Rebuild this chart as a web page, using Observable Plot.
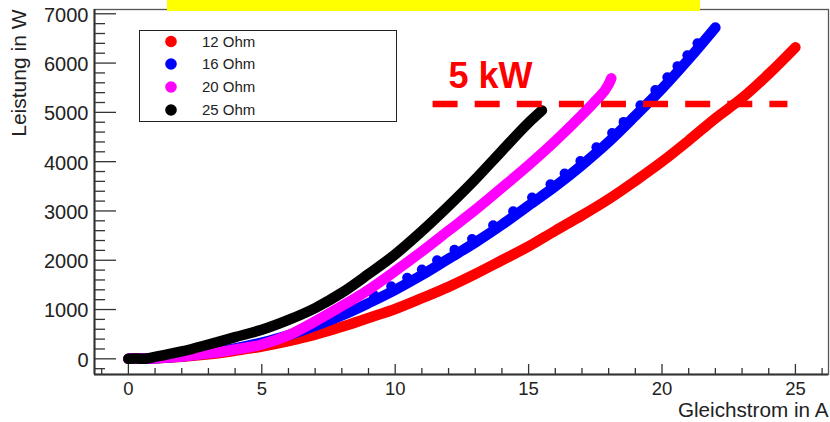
<!DOCTYPE html>
<html>
<head>
<meta charset="utf-8">
<script src="https://cdn.jsdelivr.net/npm/d3@7"></script>
<script src="https://cdn.jsdelivr.net/npm/@observablehq/plot@0.6"></script>
<style>
  body { margin: 0; background: #fff; }
  #wrap { position: relative; width: 830px; height: 422px; font-family: "Liberation Sans", Arial, Helvetica, sans-serif; }
  #bar { position: absolute; left: 167px; top: 0; width: 533px; height: 11px; background: #ffff00; }
  #legend { position: absolute; left: 139px; top: 30px; width: 256px; height: 90px; border: 1.5px solid #222; background: #fff; }
</style>
</head>
<body>
<div id="wrap"></div>
<script>
// ---------- data ----------
const seriesNames  = ["12 Ohm", "16 Ohm", "20 Ohm", "25 Ohm"];
const seriesColors = ["#ff0000", "#0000ff", "#ff00ff", "#000000"];

const current12 = [0, 0.75, 1, 2, 3, 4, 5, 6, 7, 8, 9, 10, 11, 12, 13, 14, 15, 16, 17, 18, 19, 20, 21, 22, 23, 24, 25];
const power12   = [0, 10, 12, 42, 92, 165, 250, 360, 490, 650, 830, 1010, 1230, 1460, 1720, 2000, 2280, 2600, 2910, 3240, 3610, 4000, 4430, 4880, 5290, 5780, 6320];

const current16 = [0, 1, 2, 3, 4, 5, 6, 7, 8, 9, 10, 11, 12, 13, 14, 15, 16, 17, 18, 19, 20, 21, 22];
const power16   = [0, 12, 50, 115, 210, 330, 480, 670, 880, 1130, 1400, 1700, 2030, 2360, 2720, 3110, 3500, 3930, 4400, 4930, 5480, 6080, 6720];

const bumpCurrent16 = [7.6, 8.4, 9.2, 9.85, 10.45, 11.0, 11.57, 12.22, 12.88, 13.67, 14.42, 15.13, 15.82, 16.35, 16.94, 17.54, 18.13, 18.56, 19.19, 19.75, 20.2, 20.58, 20.95, 21.33];
const bumpPower16   = [906, 1090, 1294, 1470, 1645, 1810, 1998, 2213, 2430, 2711, 2994, 3271, 3540, 3760, 4014, 4294, 4579, 4807, 5144, 5452, 5710, 5938, 6160, 6401];

const current20 = [0, 1, 2, 3, 4, 5, 6, 7, 8, 9, 10, 11, 12, 13, 14, 15, 16, 17, 17.5, 18, 18.1];
const power20   = [0, 10, 45, 110, 190, 290, 480, 760, 1070, 1400, 1780, 2180, 2600, 3020, 3470, 3930, 4420, 4950, 5230, 5570, 5690];

const current25 = [0, 0.3, 0.6, 1, 2, 3, 4, 5, 6, 7, 8, 9, 10, 11, 12, 13, 14, 15, 15.5];
const power25   = [0, 5, 0, 40, 150, 290, 440, 590, 790, 1030, 1340, 1720, 2120, 2590, 3100, 3640, 4220, 4790, 5040];

const xTicksMajor = [0, 5, 10, 15, 20, 25];
const yTicksMajor = [0, 1000, 2000, 3000, 4000, 5000, 6000, 7000];
const xDomain = [-1.27, 26.24];
const yDomain = [-318, 7087];

const xTitle = "Gleichstrom in A";
const yTitle = "Leistung in W";

const limitLabel = ["5 kW"];
const limitPower = [5170];
const limitRange = [11.42, 24.72];
const limitLabelPos = [12.0, 5498];

// ---------- build ----------
const rows = (I, P, s) => I.map((x, i) => ({I: x, P: P[i], s}));
const series = [
  rows(current12, power12, seriesNames[0]),
  rows(current16, power16, seriesNames[1]),
  rows(current20, power20, seriesNames[2]),
  rows(current25, power25, seriesNames[3])
];
const bumps16 = rows(bumpCurrent16, bumpPower16, seriesNames[1]);

const W = 830, H = 422, mL = 94, mR = 2, mT = 9, mB = 48;
const pw = W - mL - mR, ph = H - mT - mB;
const font = "'Liberation Sans', Arial, Helvetica, sans-serif";

const xMinor = d3.range(-1, 27, 1).filter(v => v % 5 !== 0);
const yMinor = d3.range(-200, 7001, 200).filter(v => v % 1000 !== 0);

const dataMarks = [];
series.forEach((data, k) => {
  dataMarks.push(Plot.line(data, {
    x: "I", y: "P", stroke: seriesColors[k], strokeWidth: 10.5,
    strokeLinecap: "round", strokeLinejoin: "round", curve: "monotone-x"
  }));
  if (k === 1) dataMarks.push(Plot.dot(bumps16, {x: "I", y: "P", r: 5, fill: seriesColors[1]}));
});

const plot = Plot.plot({
  width: W, height: H,
  marginLeft: mL, marginRight: mR, marginTop: mT, marginBottom: mB,
  x: {domain: xDomain, axis: null},
  y: {domain: yDomain, axis: null},
  style: {fontFamily: font, background: "white", overflow: "visible"},
  marks: [
    Plot.frame({stroke: "#555", strokeWidth: 1.3}),
    ...dataMarks,
    Plot.ruleY(limitPower, {x1: limitRange[0], x2: limitRange[1], stroke: "#ff0000", strokeWidth: 6.5, strokeDasharray: "25,17.1"}),
    Plot.text(limitLabel, {x: limitLabelPos[0], y: limitLabelPos[1], text: d => d, fill: "#ff0000", fontSize: 36, fontWeight: "bold", textAnchor: "start", lineAnchor: "bottom"}),
    // ticks
    Plot.tickY(yTicksMajor, {y: d => d, stroke: "#333", strokeWidth: 1.3, insetRight: pw - 22}),
    Plot.tickY(yMinor, {y: d => d, stroke: "#333", strokeWidth: 1.3, insetRight: pw - 11}),
    Plot.tickX(xTicksMajor, {x: d => d, stroke: "#333", strokeWidth: 1.3, insetTop: ph - 10}),
    Plot.tickX(xMinor, {x: d => d, stroke: "#333", strokeWidth: 1.3, insetTop: ph - 6}),
    // axis lines
    Plot.ruleX([xDomain[0]], {stroke: "#333", strokeWidth: 2}),
    Plot.ruleY([yDomain[0]], {stroke: "#333", strokeWidth: 2}),
    // tick labels
    Plot.text(yTicksMajor, {y: d => d, text: d => String(d), frameAnchor: "left", textAnchor: "end", lineAnchor: "middle", dx: -6, dy: 1.5, fontSize: 20, fill: "#222"}),
    Plot.text(xTicksMajor, {x: d => d, text: d => String(d), frameAnchor: "bottom", textAnchor: "middle", lineAnchor: "top", dy: 7.8, fontSize: 18.5, fill: "#222"}),
    // axis titles
    Plot.text([xTitle], {frameAnchor: "bottom-right", text: d => d, textAnchor: "end", lineAnchor: "bottom", dy: 42, fontSize: 20.7, fill: "#222"}),
    Plot.text([yTitle], {frameAnchor: "top-left", text: d => d, rotate: -90, textAnchor: "end", lineAnchor: "bottom", dx: -69, dy: 0, fontSize: 21, fill: "#222"})
  ]
});

const wrap = document.getElementById("wrap");
wrap.appendChild(plot);

// yellow bar at the top
const bar = document.createElement("div");
bar.id = "bar";
wrap.appendChild(bar);

// legend inside the frame
const leg = document.createElement("div");
leg.id = "legend";
wrap.appendChild(leg);
const lsvg = d3.select(leg).append("svg").attr("width", 256).attr("height", 90)
  .style("position", "absolute").style("left", "0px").style("top", "0px");
const ly = [10.5, 33, 56, 79];
seriesNames.forEach((name, i) => {
  lsvg.append("circle").attr("cx", 31).attr("cy", ly[i]).attr("r", 5.8).attr("fill", seriesColors[i]);
  lsvg.append("text").attr("x", 62).attr("y", ly[i]).attr("dy", "0.35em")
    .attr("font-family", font).attr("font-size", 15).attr("fill", "#222").text(name);
});
</script>
</body>
</html>
